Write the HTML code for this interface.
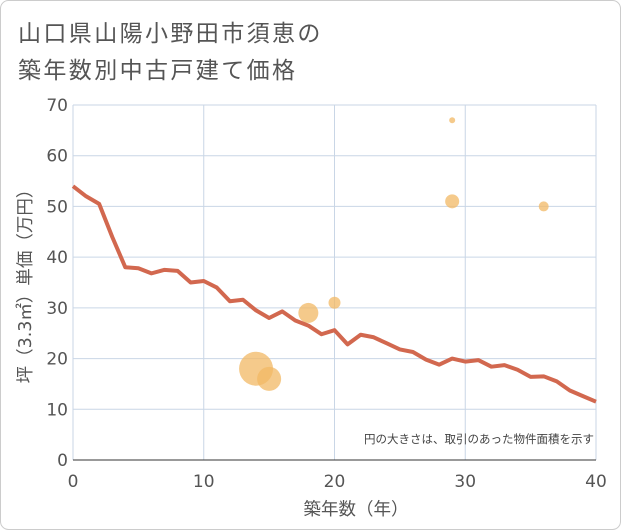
<!DOCTYPE html>
<html><head><meta charset="utf-8"><style>
body{margin:0;background:#fff;}
svg{display:block;font-family:"DejaVu Sans","Noto Sans CJK JP",sans-serif;}
</style></head><body>
<svg width="621" height="530">
<rect x="0.5" y="0.5" width="620" height="529" rx="8" fill="#fff" stroke="#cccccc"/>
<text x="18" y="41" font-size="23" letter-spacing="2.4" fill="#555">山口県山陽小野田市須恵の</text>
<text x="18" y="78" font-size="23" letter-spacing="2.4" fill="#555">築年数別中古戸建て価格</text>
<g id="grid"></g>
<g id="axes"></g>
<g id="bubbles"></g>
<g id="line"></g>
<text x="594" y="443" font-size="11.5" fill="#444" text-anchor="end">円の大きさは、取引のあった物件面積を示す</text>
<text x="356" y="515" font-size="17.5" fill="#555" text-anchor="middle">築年数（年）</text>
<text transform="translate(31,282) rotate(-90)" font-size="17.5" fill="#555" text-anchor="middle">坪（3.3㎡）単価（万円）</text>
</svg>
<script>
const xTicks=[0,10,20,30,40];
const yTicks=[0,10,20,30,40,50,60,70];
const lineYears=[0,1,2,3,4,5,6,7,8,9,10,11,12,13,14,15,16,17,18,19,20,21,22,23,24,25,26,27,28,29,30,31,32,33,34,35,36,37,38,39,40];
const linePrices=[54,52,50.5,44,38,37.8,36.8,37.5,37.3,35,35.3,34,31.3,31.6,29.5,28,29.3,27.5,26.5,24.8,25.6,22.8,24.7,24.2,23,21.8,21.3,19.8,18.8,20,19.4,19.7,18.4,18.7,17.8,16.4,16.5,15.5,13.7,12.6,11.5];
const bubbleYears=[14,15,18,20,29,29,36];
const bubblePrices=[18,16,29,31,67,51,50];
const bubbleSizes=[17,12,10,6,3,7,5];
const NS="http://www.w3.org/2000/svg";
const X0=73,X1=596,Y0=460,Y1=105;
const sx=v=>X0+(v-0)/(40-0)*(X1-X0);
const sy=v=>Y0-(v-0)/(70-0)*(Y0-Y1);
function mk(t,a,p){const e=document.createElementNS(NS,t);for(const k in a)e.setAttribute(k,a[k]);p.appendChild(e);return e;}
const g=document.getElementById('grid'),ax=document.getElementById('axes');
xTicks.forEach(v=>{
 const l=mk('line',{x1:sx(v),x2:sx(v),y1:Y1,y2:Y0,stroke:'#c9d6e6'},g);
 
 
 const t=mk('text',{x:sx(v),y:Y0+27,'font-size':17,fill:'#555','text-anchor':'middle'},ax);t.textContent=v;
 
 
});
yTicks.forEach(v=>{
 const l=mk('line',{x1:X0,x2:X1,y1:sy(v),y2:sy(v),stroke:'#c9d6e6'},g);
 
 
 const t=mk('text',{x:X0-5,y:sy(v)+6,'font-size':17,fill:'#555','text-anchor':'end'},ax);t.textContent=v;
 
 
});
const xa=mk('line',{x1:X0,x2:X1,y1:Y0,y2:Y0,stroke:'#333'},ax);


const b=document.getElementById('bubbles');
bubbleYears.forEach((v,i)=>{
 const c=mk('circle',{cx:sx(v),cy:sy(bubblePrices[i]),r:bubbleSizes[i],fill:'#f2b864','fill-opacity':0.75},b);
 
 
});
const pts=lineYears.map((v,i)=>sx(v)+','+sy(linePrices[i])).join(' ');
const pl=mk('polyline',{points:pts,fill:'none',stroke:'#d2684f','stroke-width':4,'stroke-linejoin':'round'},document.getElementById('line'));


</script>
</body></html>
